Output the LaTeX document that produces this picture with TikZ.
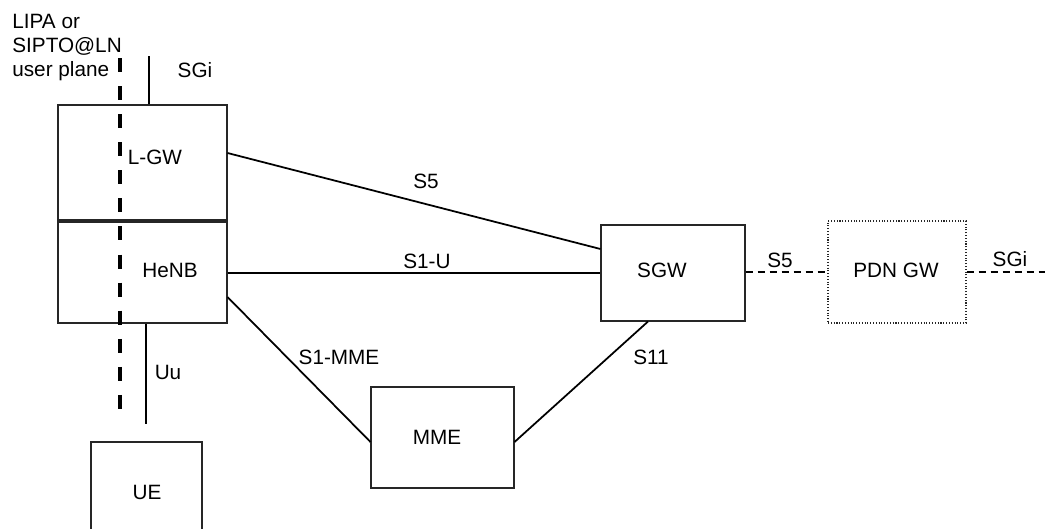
\documentclass[tikz,border=0pt]{standalone}
\usepackage{fontspec}
\setmainfont{Liberation Sans}
\usetikzlibrary{positioning}

\tikzset{
	netbox/.style={draw=black!85, line width=0.6pt, inner sep=0pt},
	iface/.style={line width=1pt},
	ifacedash/.style={line width=0.9pt, dash pattern=on 0.14cm off 0.1cm},
	txt/.style={inner sep=0pt, font=\fontsize{11.8}{13.6}\selectfont}
}

\begin{document}
\begin{tikzpicture}[x=0.02cm, y=-0.02cm]
			%%%%% START %%%%%
			\useasboundingbox (0, 0) rectangle (1045, 528);
			
			\node[netbox, minimum width=3.38cm, minimum height=2.30cm] (lgw) at (142.5, 162.5) {};
			\node[netbox, minimum width=3.38cm, minimum height=2.02cm] (henb) at (142.5, 272.5) {};
			\node[netbox, minimum width=2.22cm, minimum height=1.96cm] (ue) at (146.5, 491) {};
			\node[netbox, minimum width=2.88cm, minimum height=1.92cm] (sgw) at (673, 273) {};
			\node[netbox, densely dotted, minimum width=2.76cm, minimum height=2.04cm] (pdn) at (897, 272) {};
			\node[netbox, minimum width=2.86cm, minimum height=2.02cm] (mme) at (442.5, 437.5) {};
			
			\node[txt] (lgwtxt) at (155, 157) {L-GW};
			\node[txt] (henbtxt) at (170, 270) {HeNB};
			\node[txt] (uetxt) at (147, 492) {UE};
			\node[txt] (sgwtxt) at (662, 270) {SGW};
			\node[txt] (pdntxt) at (896, 270) {PDN GW};
			\node[txt] (mmetxt) at (437, 437) {MME};
			
			\coordinate (sgitop) at (149, 56);
			\coordinate (uuend) at (146, 424);
			\coordinate (sgiend) at (1045, 272);
			\coordinate (uptop) at (120, 58);
			\coordinate (upbot) at (120, 409);
			
			\draw[iface] (lgw.north -| 149,0) -- (sgitop);
			\draw[iface] (henb.south -| 146,0) -- (uuend);
			\draw[iface] (lgw.east |- 0,153) -- (sgw.west |- 0,249);
			\draw[iface] (henb.east |- 0,273) -- (sgw.west |- 0,273);
			\draw[iface] (henb.east |- 0,297) -- (mme.west |- 0,442);
			\draw[iface] (sgw.south -| 648,0) -- (mme.east |- 0,442);
			\draw[ifacedash] (sgw.east |- 0,272) -- (pdn.west |- 0,272);
			\draw[ifacedash] (pdn.east |- 0,272) -- (sgiend);
			
			\draw[line width=1.8pt, dash pattern=on 0.28cm off 0.2816cm] (uptop) -- (upbot);
			
			\node[txt, align=left, anchor=north west] (uplane) at (12, 14) {LIPA or\\SIPTO@LN\\user plane};
			\node[txt] (sgilbl) at (195, 70) {SGi};
			\node[txt] (uulbl) at (168, 372) {Uu};
			\node[txt] (s5lbl) at (426, 181) {S5};
			\node[txt] (s1ulbl) at (427, 261) {S1-U};
			\node[txt] (s1mmelbl) at (339, 357) {S1-MME};
			\node[txt] (s11lbl) at (651, 357) {S11};
			\node[txt] (s5dlbl) at (780, 260) {S5};
			\node[txt] (sgirlbl) at (1010, 259) {SGi};
			
			%%%%% END %%%%%
		\end{tikzpicture}
\end{document}
